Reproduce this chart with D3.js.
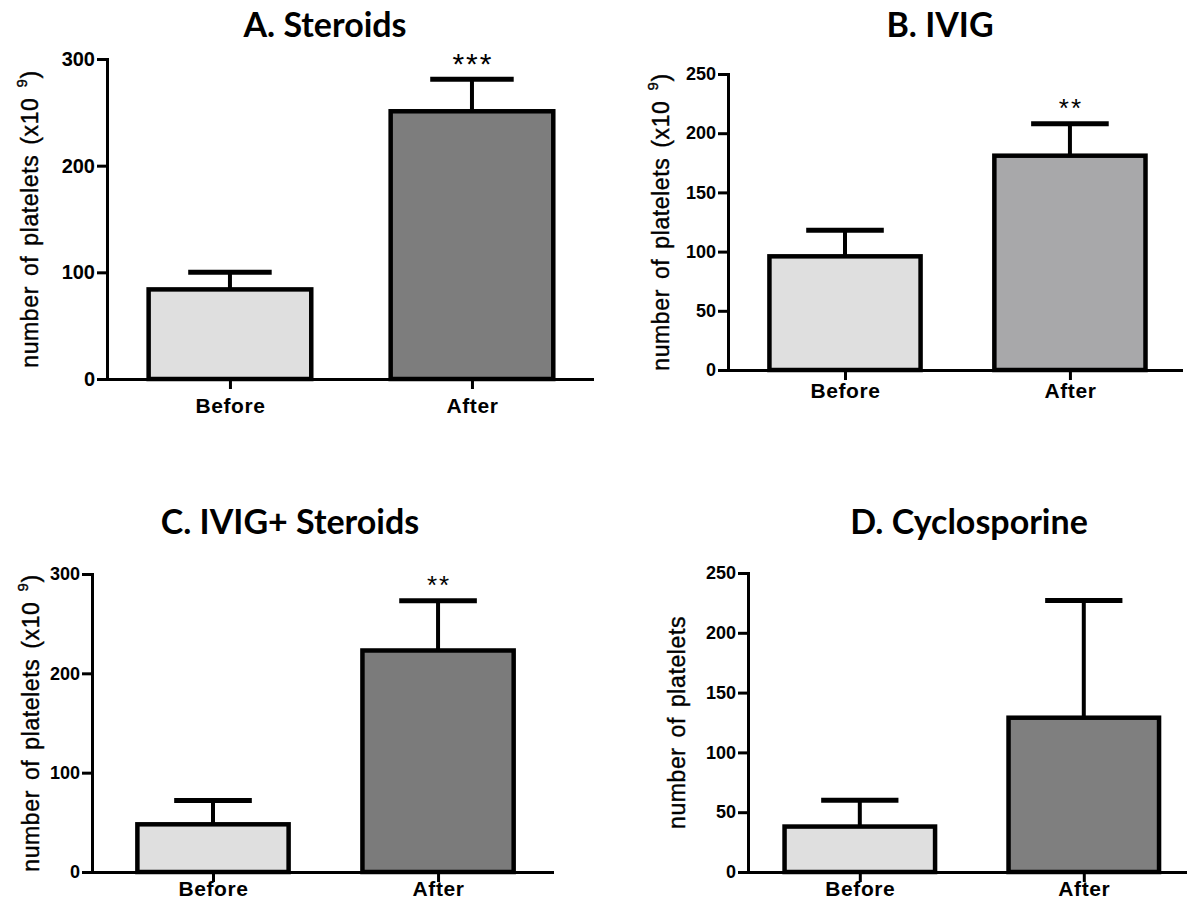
<!DOCTYPE html>
<html>
<head>
<meta charset="utf-8">
<script src="https://cdn.jsdelivr.net/npm/d3@7"></script>
<style>
  body { margin: 0; background: #fff; }
  svg { display: block; background: #fff; }
</style>
</head>
<body>
<svg class="platelet-panels" width="1187" height="903"></svg>
<script>
const categories = ['Before', 'After'];
const titles = ['A. Steroids', 'B. IVIG', 'C. IVIG+ Steroids', 'D. Cyclosporine'];

const steroidsMean = [84, 251];
const steroidsSem = [16, 30];
const ivigMean = [96, 181];
const ivigSem = [22, 27];
const comboMean = [48, 223];
const comboSem = [24, 50];
const cycloMean = [38, 129];
const cycloSem = [22, 98];

const significance = ['***', '**', '**', ''];

const ticks300 = [0, 100, 200, 300];
const ticks250 = [0, 50, 100, 150, 200, 250];

const yLabelText = 'number of platelets';
const yLabelUnit = '(x10';
const yLabelExponent = '9';

const ARIAL = '"Liberation Sans", Arial, sans-serif';
const TITLE_FONT = 'Lato, "Open Sans", sans-serif';

const panels = [
  {
    title: titles[0], mean: steroidsMean, sem: steroidsSem, stars: significance[0],
    yMax: 300, ticks: ticks300, unit: true, afterFill: '#7d7d7d',
    box: { left: 107, right: 592, top: 59, bottom: 379 }, padding: 0.502, align: 0.506,
    titleX: 325, titleY: 37, labelX: 38, tickFont: 20, starFont: 30, xLabelY: 413,
  },
  {
    title: titles[1], mean: ivigMean, sem: ivigSem, stars: significance[1],
    yMax: 250, ticks: ticks250, unit: true, afterFill: '#a8a8aa',
    box: { left: 728, right: 1181, top: 74, bottom: 370 }, padding: 0.507, align: 0.513,
    titleX: 940, titleY: 37, labelX: 669, tickFont: 18, starFont: 26, xLabelY: 398,
  },
  {
    title: titles[2], mean: comboMean, sem: comboSem, stars: significance[2],
    yMax: 300, ticks: ticks300, unit: true, afterFill: '#7b7b7b',
    box: { left: 92, right: 552, top: 574, bottom: 872 }, padding: 0.522, align: 0.515,
    titleX: 290, titleY: 534, labelX: 39, tickFont: 18, starFont: 26, xLabelY: 896,
  },
  {
    title: titles[3], mean: cycloMean, sem: cycloSem, stars: significance[3],
    yMax: 250, ticks: ticks250, unit: false, afterFill: '#7f7f7f',
    box: { left: 748, right: 1187, top: 573, bottom: 872 }, padding: 0.48, align: 0.52,
    titleX: 969, titleY: 534, labelX: 685, tickFont: 18, starFont: 26, xLabelY: 896,
  },
];

const svg = d3.select('.platelet-panels');

function drawPanel(p) {
  const g = svg.append('g');

  const x = d3.scalePoint()
    .domain(categories)
    .range([p.box.left, p.box.right])
    .padding(p.padding)
    .align(p.align);
  const y = d3.scaleLinear()
    .domain([0, p.yMax])
    .range([p.box.bottom, p.box.top]);

  const barW = x.step() * 0.672;
  const capW = x.step() * 0.345;
  const rows = categories.map((c, i) => ({ cat: c, mean: p.mean[i], sem: p.sem[i], i }));

  // bars
  g.selectAll('rect.bar')
    .data(rows)
    .join('rect')
    .attr('class', 'bar')
    .attr('x', d => x(d.cat) - barW / 2)
    .attr('y', d => y(d.mean))
    .attr('width', barW)
    .attr('height', d => y(0) - y(d.mean))
    .attr('fill', d => (d.i === 0 ? '#dfdfdf' : p.afterFill))
    .attr('stroke', '#000')
    .attr('stroke-width', 4.5);

  // error bars (upper only)
  g.selectAll('line.stem')
    .data(rows)
    .join('line')
    .attr('class', 'stem')
    .attr('x1', d => x(d.cat))
    .attr('x2', d => x(d.cat))
    .attr('y1', d => y(d.mean))
    .attr('y2', d => y(d.mean + d.sem))
    .attr('stroke', '#000')
    .attr('stroke-width', 4);

  g.selectAll('line.cap')
    .data(rows)
    .join('line')
    .attr('class', 'cap')
    .attr('x1', d => x(d.cat) - capW / 2)
    .attr('x2', d => x(d.cat) + capW / 2)
    .attr('y1', d => y(d.mean + d.sem))
    .attr('y2', d => y(d.mean + d.sem))
    .attr('stroke', '#000')
    .attr('stroke-width', 5);

  // significance stars over the After bar
  if (p.stars) {
    const last = rows[rows.length - 1];
    g.append('text')
      .attr('x', x(last.cat) + 1)
      .attr('y', y(last.mean + last.sem) - 22 + p.starFont * 0.57)
      .attr('text-anchor', 'middle')
      .attr('font-family', ARIAL)
      .attr('font-size', p.starFont)
      .attr('letter-spacing', 2)
      .text(p.stars);
  }

  // Add the Y Axis
  const yAxis = g.append('g')
    .attr('transform', `translate(${p.box.left},0)`)
    .call(d3.axisLeft(y).tickValues(p.ticks).tickSize(10).tickSizeOuter(0).tickPadding(2));
  yAxis.select('.domain').attr('stroke', '#000').attr('stroke-width', 3).attr('stroke-linecap', 'square');
  yAxis.selectAll('.tick line').attr('stroke', '#000').attr('stroke-width', 3);
  yAxis.selectAll('.tick text')
    .attr('font-family', ARIAL)
    .attr('font-weight', 'bold')
    .attr('font-size', p.tickFont)
    .attr('fill', '#000');

  // Add the X Axis
  const xAxis = g.append('g')
    .attr('transform', `translate(0,${p.box.bottom})`)
    .call(d3.axisBottom(x).tickSize(10).tickSizeOuter(0));
  xAxis.select('.domain').attr('stroke', '#000').attr('stroke-width', 3).attr('stroke-linecap', 'square');
  xAxis.selectAll('.tick line').attr('stroke', '#000').attr('stroke-width', 3);
  xAxis.selectAll('.tick text')
    .attr('y', p.xLabelY - p.box.bottom)
    .attr('dy', null)
    .attr('font-family', ARIAL)
    .attr('font-weight', 'bold')
    .attr('font-size', 21)
    .attr('letter-spacing', 0.6)
    .attr('fill', '#000');

  // title
  g.append('text')
    .attr('x', p.titleX)
    .attr('y', p.titleY)
    .attr('text-anchor', 'middle')
    .attr('font-family', TITLE_FONT)
    .attr('font-weight', 'bold')
    .attr('font-size', 34)
    .text(p.title);

  // y label
  const label = g.append('text')
    .attr('transform', `translate(${p.labelX},${(p.box.top + p.box.bottom) / 2}) rotate(-90)`)
    .attr('text-anchor', 'middle')
    .attr('font-family', ARIAL)
    .attr('font-size', 23)
    .attr('letter-spacing', 0.6)
    .attr('word-spacing', 3)
    .attr('stroke', '#000')
    .attr('stroke-width', 0.4);
  label.append('tspan').text(yLabelText);
  if (p.unit) {
    label.append('tspan').text(` ${yLabelUnit} `);
    label.append('tspan').attr('dy', -11).attr('font-size', 15).text(yLabelExponent);
    label.append('tspan').attr('dy', 11).text(')');
  }
}

panels.forEach(drawPanel);
</script>
</body>
</html>
